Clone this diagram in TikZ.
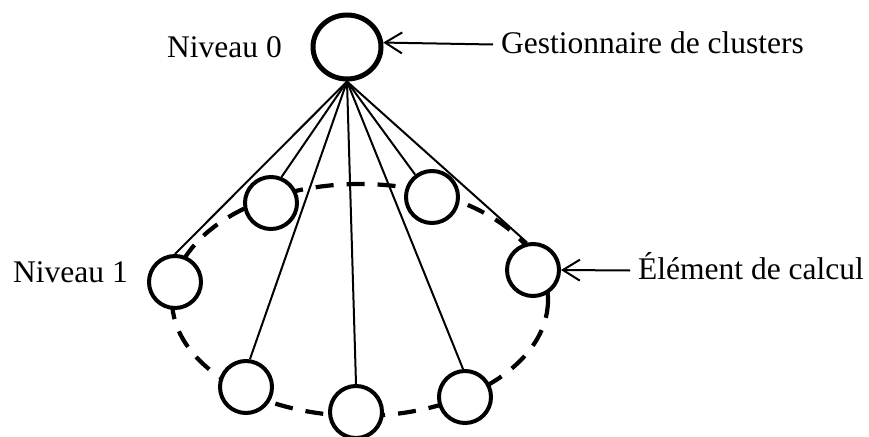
\documentclass[tikz,border=0pt]{standalone}
\usepackage{fontspec}
\setmainfont{Liberation Serif}
\usetikzlibrary{shapes.geometric,arrows.meta}
\begin{document}
\begin{tikzpicture}[x=1pt,y=-1pt,
  lbl/.style={font=\fontsize{31.5}{36}\selectfont, inner sep=0pt, anchor=base west},
  note/.style={lbl, inner xsep=8pt, text height=17pt, text depth=0pt},
  elem/.style={circle, draw, line width=4pt, fill=white, minimum size=52pt, inner sep=0pt},
  link/.style={line width=2pt},
  ptr/.style={line width=2pt, -{Straight Barb[length=17pt,width=21pt]}}]
\useasboundingbox (0,0) rectangle (869,436);
\draw[line width=4.2pt, dash pattern=on 18pt off 13pt] (360,300) ellipse [x radius=188, y radius=116];
\node[ellipse, draw, line width=5pt, fill=white, minimum width=68pt, minimum height=64pt, inner sep=0pt] (top) at (347,47) {};
\node[elem] (n1) at (175,282) {};
\node[elem] (n2) at (271,203) {};
\node[elem] (n3) at (432,197) {};
\node[elem] (n4) at (533,270) {};
\node[elem] (n5) at (246,387) {};
\node[elem] (n6) at (356,412) {};
\node[elem] (n7) at (465,397) {};
\draw[link] (top.south) -- (n1.90);
\draw[link] (top.south) -- (n2.68);
\draw[link] (top.south) -- (n3.127);
\draw[link] (top.south) -- (n4.102);
\draw[link] (top.south) -- (n5.82);
\draw[link] (top.south) -- (n6.90);
\draw[link] (top.south) -- (n7.94);
\node[lbl] (l0) at (167,57) {Niveau 0};
\node[lbl] (l1) at (13,282) {Niveau 1};
\node[note] (g) at (493,53) {Gestionnaire de clusters};
\node[note] (e) at (630,279) {Élément de calcul};
\draw[ptr] (g.west) -- (top.7);
\draw[ptr] (e.west) -- (n4.east);
\end{tikzpicture}
\end{document}
